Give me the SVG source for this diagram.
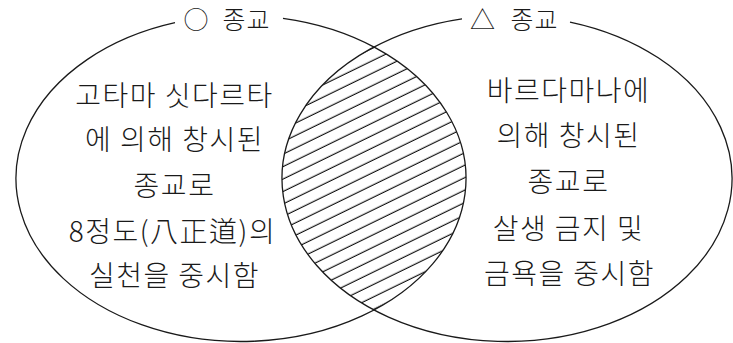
<svg xmlns="http://www.w3.org/2000/svg" width="733" height="343" viewBox="0 0 733 343">
  <style>
    .outline { fill: none; stroke: #1a1a1a; stroke-width: 1.3; }
    .txt { font-family: "Noto Sans CJK KR", "Noto Sans", sans-serif; font-size: 28px; font-weight: 300; letter-spacing: 1.5px; fill: #1a1a1a; text-anchor: middle; }
    .lbl { font-family: "Noto Sans CJK KR", "Noto Sans", sans-serif; font-size: 25px; font-weight: 300; letter-spacing: 1px; fill: #1a1a1a; text-anchor: middle; }
  </style>
  <defs>
    <pattern id="hatch" width="40" height="11.2" patternUnits="userSpaceOnUse" patternTransform="rotate(-26)">
      <line x1="-1" y1="5" x2="41" y2="5" stroke="#111" stroke-width="1.2"/>
    </pattern>
    <clipPath id="clipL"><ellipse cx="241" cy="178.5" rx="225" ry="163"/></clipPath>
    <clipPath id="clipR"><ellipse cx="507" cy="178.5" rx="225" ry="163"/></clipPath>
  </defs>
  <rect width="733" height="343" fill="#ffffff"/>
  <g id="intersection">
    <g clip-path="url(#clipL)">
      <rect x="270" y="30" width="210" height="300" fill="url(#hatch)" clip-path="url(#clipR)"/>
    </g>
  </g>
  <g id="religion-circle">
    <path class="outline" d="M283,18.36 A225,163 0 1 1 175,22.67"/>
    <text class="lbl" x="196.5" y="29">○</text>
    <text class="lbl" x="246.5" y="29">종교</text>
    <text class="txt" x="174.5" y="106">고타마 싯다르타</text>
    <text class="txt" x="174.5" y="150">에 의해 창시된</text>
    <text class="txt" x="174.5" y="196">종교로</text>
    <text class="txt" x="172.5" y="242">8정도(八正道)의</text>
    <text class="txt" x="174.5" y="286">실천을 중시함</text>
  </g>
  <g id="religion-triangle">
    <path class="outline" d="M570,22.02 A225,163 0 1 1 462,18.79"/>
    <text class="lbl" x="483" y="29">△</text>
    <text class="lbl" x="534.5" y="29">종교</text>
    <text class="txt" x="568.5" y="101">바르다마나에</text>
    <text class="txt" x="568.5" y="146">의해 창시된</text>
    <text class="txt" x="568.5" y="192">종교로</text>
    <text class="txt" x="568.5" y="239">살생 금지 및</text>
    <text class="txt" x="569.5" y="284">금욕을 중시함</text>
  </g>
</svg>
